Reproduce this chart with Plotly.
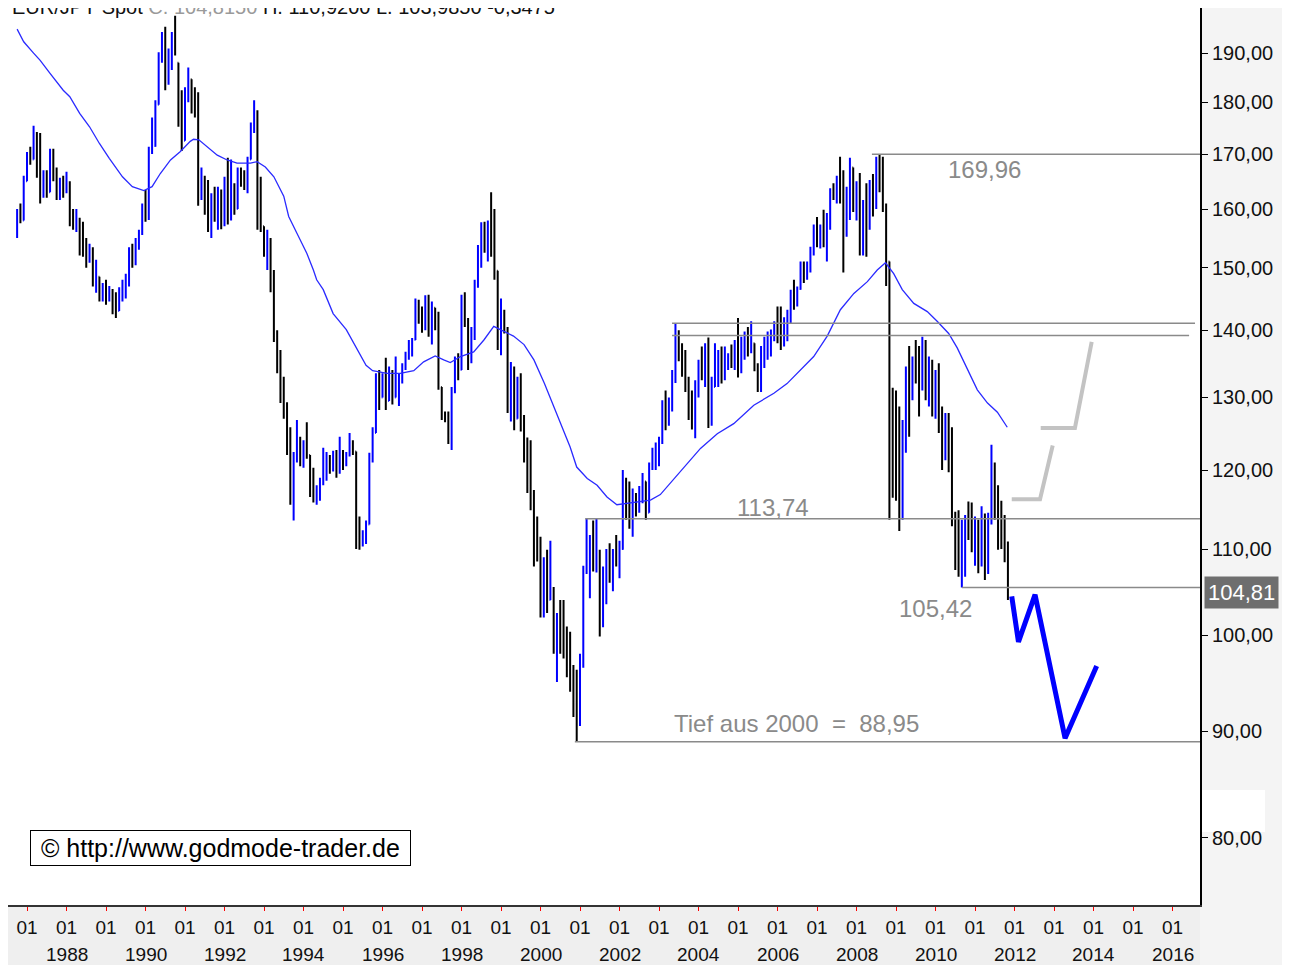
import numpy as np
import plotly.graph_objects as go

# ---------------- data (monthly EUR/JPY bars, Oct 1986 .. Nov 2011) ----------------
first_bar_year = 1986.75
first_open = 155.5

highs = [
    160, 161, 166, 170.4, 171.4, 175.4, 174.2, 174, 167, 167,
    171, 171, 167.5, 165.6, 166, 166.7, 165, 160, 160, 158.5,
    157.8, 155, 154, 153.4, 151.3, 148.5, 147.5, 148, 147, 146.5,
    146, 146.8, 148, 149, 153.4, 154, 155, 156.4, 161, 163.4,
    171.4, 177, 180.4, 190.2, 194.5, 195.6, 191, 194.5, 198, 188,
    182.4, 183, 187, 184.6, 183, 182, 167.5, 166, 165.2, 162.8,
    164, 164, 163.5, 165.8, 169.3, 169, 164.6, 167.5, 167.5, 167,
    169.5, 176, 180.4, 178.4, 165.8, 157, 156.4, 155, 149.6, 140,
    137, 133, 129.3, 125.8, 122.4, 126.8, 124.5, 124, 126.5, 122,
    120.3, 118, 119, 123, 122.4, 122, 122.6, 122.7, 124.5, 122.7,
    122.4, 125, 124, 122.5, 114, 112.3, 113.5, 122.3, 125.8, 133.5,
    134, 133.5, 135.8, 134.5, 134, 136, 133.5, 135, 136.7, 138.5,
    138.8, 145, 144.8, 143.7, 145.5, 145.6, 144.5, 143.5, 142.9, 131.5,
    128, 128, 131.5, 136, 136.5, 145.6, 146, 141.9, 140.5, 148,
    153.8, 157.7, 157.8, 158, 163, 160, 149.5, 145, 143.2, 140.5,
    135.2, 134.5, 133, 133.5, 127.5, 124.4, 124, 117.4, 114, 111.5,
    109, 109.9, 111, 105.5, 102.5, 104, 104, 101, 100.4, 96.8,
    96.3, 98, 108, 113.74, 111.7, 113.5, 113.7, 109.9, 107.9, 110,
    110.7, 110, 111.7, 111, 120, 119, 118.5, 117.6, 117, 117.9,
    119.6, 118.5, 121, 123, 123.7, 124.5, 129.6, 131, 130, 134,
    141, 140, 138, 137, 133, 131, 132.5, 135.5, 137.5, 138,
    138.9, 133, 138, 137, 137.5, 137.5, 136.5, 137.8, 138.5, 141.9,
    139, 139.8, 140.5, 141.4, 138, 135, 137.6, 139, 139.8, 140.1,
    141.4, 143.7, 143.7, 142, 143.2, 146.4, 148, 146.9, 151, 151,
    151, 153.5, 157.3, 158.6, 157.3, 159.9, 159.3, 163.7, 164.6, 166,
    169.5, 167, 164, 169.3, 167.5, 165, 166.5, 161.6, 164.6, 165.2,
    166.3, 169.5, 169.96, 169.5, 161, 151, 131.4, 131, 128.7, 126.8,
    134.5, 137.6, 136, 138.5, 137.6, 139, 138.5, 136, 135.5, 134,
    135, 128.7, 127.8, 127.8, 125.8, 114.6, 114.8, 113.6, 114.2, 115.9,
    115.8, 114, 113.6, 115.3, 114.4, 114.5, 123.4, 121, 118, 116,
    114.2, 110.92,
]

lows = [
    155, 157.5, 158, 165, 168, 169, 165.6, 161, 162, 162,
    163, 165, 161.6, 161.6, 162, 162.8, 157, 156.4, 156, 152,
    151.8, 150, 150.8, 146.9, 145.9, 144.5, 144.5, 144, 144.5, 142.5,
    141.9, 143, 144.5, 145, 146.9, 150, 150.4, 153, 155.5, 157.8,
    158.1, 170, 171.4, 179.5, 188, 182.4, 183.5, 186.5, 189.5, 175.2,
    170.6, 172.5, 180, 177.8, 177, 160.6, 161.6, 159, 156, 155,
    157.8, 156.4, 156.5, 157, 157.3, 158, 159, 160, 164, 163.4,
    162.8, 169, 174, 156.4, 156, 151.8, 149.6, 146, 138.2, 133.5,
    129.2, 127, 122, 115.5, 113.5, 121, 120.5, 120.3, 121.5, 116.5,
    115.8, 115.5, 116, 118, 118.6, 119.5, 119.8, 119, 119.5, 120,
    120.5, 121.8, 122, 110, 109.9, 110.3, 110.6, 113, 121, 125,
    128.2, 130, 128.2, 129.5, 129, 130, 128.8, 132, 134, 135.5,
    136, 138.5, 141, 139.6, 140, 139, 137.8, 140, 131.1, 126.8,
    126.5, 123.5, 122.7, 130.6, 132.5, 134, 140.5, 134, 135, 138.5,
    146.7, 150, 152.5, 151, 151.8, 148, 137, 136.2, 139.5, 127.8,
    126.6, 125.4, 127, 125.2, 121, 117, 114.8, 107.9, 108.5, 102,
    102, 102.5, 104, 98, 95, 98, 97.5, 95.5, 94, 91.4,
    88.95, 90.5, 96.5, 107, 104.2, 107.3, 107.2, 99.9, 100.9, 103.5,
    106, 105, 107.9, 106.5, 109.9, 113.6, 112.5, 111.5, 114, 114.5,
    115.7, 113.6, 114.5, 120, 120, 120.5, 123.5, 125.4, 126, 128,
    132.1, 135.3, 133, 130.8, 126.8, 125.5, 124.3, 130, 132.5, 131.5,
    125.7, 126, 131.5, 131.5, 132, 132.5, 134, 134.3, 134, 132.9,
    133.5, 135.5, 136, 136.5, 133.8, 130.8, 130.8, 134.3, 135.5, 136,
    138.3, 138, 137, 137.5, 138.3, 141.1, 143.2, 143.7, 146.4, 147.5,
    148, 149.2, 152, 153.4, 153.2, 153.4, 151, 156.4, 161.6, 161,
    161, 149.2, 155.2, 158.1, 159.5, 158, 152, 152, 151.8, 156.4,
    158.7, 160, 163, 159.5, 147, 113.6, 116.4, 116, 112.2, 113.6,
    122.3, 124.5, 129.6, 132, 127.3, 131, 129.6, 128.7, 127.3, 127,
    125, 120, 121.3, 119.7, 112.8, 107.5, 106.7, 105.42, 106.7, 111.1,
    109.6, 108, 107.1, 107.9, 106.3, 107, 113, 113.6, 109.9, 110,
    108.4, 103.985,
]

closes = [
    159.5, 158, 165, 169.5, 169, 173, 167, 163, 166, 163,
    168, 166, 162.5, 165, 163, 164, 158, 157, 157.5, 153,
    152.5, 151, 153, 148, 150, 145.5, 146.5, 145, 145.5, 144,
    143, 146, 147, 148.5, 152.5, 151.5, 154.5, 156, 160.5, 158.5,
    170.5, 171.5, 179.5, 189.5, 193, 184, 189, 192, 190.5, 176.5,
    172, 181.5, 185.5, 179, 178, 162, 163, 160, 157, 161.5,
    159, 163, 157.5, 164.5, 158.5, 164, 160, 166.5, 165, 164,
    169, 175.5, 177, 158, 157, 153, 154.5, 147.5, 139, 134.5,
    131, 129, 123, 116.5, 121.5, 122.5, 121.5, 123, 122, 117.5,
    116.5, 117, 118.5, 119.5, 121.5, 120.5, 122, 119.8, 122.5, 121,
    122, 123.5, 122.5, 111.5, 111, 111.5, 113, 121.5, 125, 131,
    130, 131, 129.5, 133.5, 130, 132, 133, 134.5, 136, 136.5,
    138.5, 144, 142, 140.5, 144.5, 140, 143.5, 141, 132, 127.5,
    127, 124.5, 131, 135.5, 134, 145, 141, 136, 139, 147,
    153, 156, 154, 156.5, 153, 149.5, 140, 142, 140, 129,
    131, 127, 128.5, 126, 122, 118, 116, 110, 109.5, 103,
    107.5, 104, 105, 99, 101, 100, 99, 96.5, 95, 93,
    91, 97, 107.5, 109, 110.5, 108.5, 109.5, 101.5, 104, 107.5,
    107, 109, 108.5, 110, 118, 116, 114, 116, 115.5, 117,
    118.5, 114.5, 120.5, 122, 123, 124, 128.5, 127, 129, 133,
    139.5, 136.5, 135, 131.5, 129, 127, 131.5, 134.5, 133.5, 135,
    128, 131.5, 133.5, 135.5, 133, 134.5, 136, 135, 137.5, 134,
    138, 139, 137, 138, 134.5, 131.5, 136.5, 138.5, 139, 139.5,
    141, 139, 138.5, 140, 142, 145.5, 144.5, 146.5, 150, 148.5,
    150.5, 153, 156.5, 154, 156.5, 155, 157, 163, 162, 165,
    162, 158.5, 163, 167.5, 161, 163, 153.5, 159, 157, 164.5,
    161, 168.5, 168, 160.5, 151, 122, 120, 117, 114, 124,
    133, 130, 135, 134, 132, 133, 131, 134, 129, 132,
    126, 122.5, 125.5, 121, 114, 111, 108, 110, 113.5, 112,
    110.5, 112.5, 108.5, 110.5, 107.5, 113.5, 120.5, 117.5, 112, 111,
    110.3, 104.815,
]

# moving average (bar index, value)
ma_bar_index = [0, 2, 5, 7, 10, 14, 16, 19, 22, 25, 28, 32, 35, 38.5, 41, 43.5, 46.6,
                49.6, 52.6, 53.6, 55.2, 57.7, 60.8, 63.8, 66.8, 70.9, 72.9, 75.4, 78,
                81, 82.5, 85, 88, 90, 91, 93, 96, 100, 103, 106, 108, 112.4, 116.4,
                120.5, 123.5, 127, 129.6, 131.6, 134.7, 138.7, 141.8, 144.8, 146.8,
                150.8, 154, 157, 160.2, 164, 168, 170, 173.2, 176.2, 179.2, 182.2,
                185.3, 189.3, 192.4, 195.4, 201.5, 207.6, 212.7, 217.7, 223.8, 229.9,
                233.9, 237.9, 242, 246.1, 250.1, 254.2, 258.3, 261.3, 263.8, 266.3,
                268.9, 272.4, 276.5, 279.5, 283, 285.6, 288.7, 291.7, 294.8, 297.8, 300.8]
ma_values = [195.1, 192.4, 190.0, 188.5, 185.8, 182.4, 181.1, 177.8, 175.2, 172.0, 169.2,
             165.8, 164.0, 163.3, 164.0, 166.4, 168.9, 170.5, 172.4, 172.8, 172.7, 171.4,
             169.8, 168.9, 168.3, 168.3, 168.6, 167.6, 165.8, 162.3, 158.7, 155.8, 152.4,
             149.6, 148.0, 146.4, 142.6, 140.1, 137.4, 134.7, 133.9, 133.5, 133.5, 133.9,
             135.2, 136.1, 135.5, 135.1, 136.0, 136.7, 138.5, 140.6, 140.1, 139.1, 137.8,
             135.5, 132.0, 127.7, 123.1, 120.4, 118.9, 118.0, 116.5, 115.5, 115.7, 115.9,
             116.1, 116.8, 119.8, 122.9, 124.9, 126.3, 128.9, 130.6, 132.0, 134.0, 136.0,
             139.1, 143.2, 145.8, 147.7, 149.6, 150.8, 149.0, 146.4, 144.2, 142.9, 141.4,
             139.5, 137.3, 134.0, 131.1, 129.2, 127.9, 125.8]

# horizontal levels
levels = [169.96, 141.1, 139.2, 113.74, 105.42, 88.95]
level_start = [2008.39, 2003.33, 2003.33, 2001.13, 2010.67, 2000.87]
level_end = [2016.70, 2016.57, 2016.42, 2016.70, 2016.70, 2016.70]

# projections
proj_gray_a_x = [2011.93, 2012.646, 2012.967]
proj_gray_a_y = [116.2, 116.2, 123.3]
proj_gray_b_x = [2012.663, 2013.53, 2013.954]
proj_gray_b_y = [125.7, 125.7, 138.2]
proj_blue_x = [2011.93, 2012.10, 2012.52, 2013.28, 2014.08]
proj_blue_y = [104.4, 99.3, 104.6, 89.3, 96.7]

y_ticks = [80, 90, 100, 110, 120, 130, 140, 150, 160, 170, 180, 190]
x_tick_years = list(range(1987, 2017))
year_labels = list(range(1988, 2017, 2))

last_price = 104.81

# ---------------- build ----------------
n = len(closes)
assert len(highs) == n and len(lows) == n
bar_x = [first_bar_year + i / 12 for i in range(n)]
prev = [first_open] + closes[:-1]
opens = [min(max(p, l), h) for p, l, h in zip(prev, lows, highs)]
ma_x = [first_bar_year + i / 12 for i in ma_bar_index]

fig = go.Figure()

fig.add_trace(go.Ohlc(
    x=bar_x, open=opens, high=highs, low=lows, close=closes,
    increasing=dict(line=dict(color="#0000ff", width=2)),
    decreasing=dict(line=dict(color="#000000", width=2)),
    tickwidth=0.25, hoverinfo="skip", showlegend=False,
))

fig.add_trace(go.Scatter(x=ma_x, y=ma_values, mode="lines",
                         line=dict(color="#2a2aff", width=1.3),
                         hoverinfo="skip", showlegend=False))

for lv, x0, x1 in zip(levels, level_start, level_end):
    fig.add_trace(go.Scatter(x=[x0, x1], y=[lv, lv], mode="lines",
                             line=dict(color="#8a8a8a", width=1.5),
                             hoverinfo="skip", showlegend=False))

for px, py in [(proj_gray_a_x, proj_gray_a_y), (proj_gray_b_x, proj_gray_b_y)]:
    fig.add_trace(go.Scatter(x=px, y=py, mode="lines",
                             line=dict(color="#c3c3c3", width=4),
                             hoverinfo="skip", showlegend=False))
fig.add_trace(go.Scatter(x=proj_blue_x, y=proj_blue_y, mode="lines",
                         line=dict(color="#0000ff", width=5),
                         hoverinfo="skip", showlegend=False))

FONT = "Liberation Sans, Arial, sans-serif"
ann = []
lab_font = dict(family=FONT, size=24, color="#8a8a8a")
for txt, x, v in [("169,96", 2011.25, 167.2), ("113,74", 2005.89, 115.2),
                  ("105,42", 2009.99, 103.0), ("Tief aus 2000  =  88,95", 2006.49, 90.8)]:
    ann.append(dict(x=x, y=np.log10(v), xref="x", yref="y", text=txt,
                    showarrow=False, font=lab_font, xanchor="center", yanchor="middle"))

for yr in year_labels:
    ann.append(dict(x=yr, y=-0.0557, xref="x", yref="paper", text=str(yr),
                    showarrow=False, yanchor="middle", xanchor="center",
                    font=dict(family=FONT, size=19, color="#111")))

ann.append(dict(x=1.0035, y=np.log10(last_price), xref="paper", yref="y",
                text="104,81", showarrow=False, xanchor="left", yanchor="middle",
                bgcolor="#6e6e6e", borderpad=3,
                font=dict(family=FONT, size=22, color="#ffffff")))

ann.append(dict(x=0.0185, y=0.0435, xref="paper", yref="paper", xanchor="left", yanchor="bottom",
                text="&nbsp;© http://www.godmode-trader.de&nbsp;", showarrow=False,
                bgcolor="#ffffff", bordercolor="#000000", borderwidth=1, borderpad=3,
                font=dict(family=FONT, size=25, color="#000000")))

ann.append(dict(x=0.002, y=1.0015, xref="paper", yref="paper", xanchor="left", yanchor="middle",
                showarrow=False,
                text='EUR/JPY Spot <span style="color:#9a9a9a">C. 104,8150</span> H. 110,9200 L. 103,9850 -0,3475',
                font=dict(family=FONT, size=20, color="#111111")))

shapes = [
    dict(type="rect", xref="paper", yref="paper", x0=-0.01, x1=1.08, y0=-0.08, y1=0,
         fillcolor="#efefef", line=dict(width=0), layer="below"),
    dict(type="rect", xref="paper", yref="paper", x0=1.0, x1=1.08, y0=-0.08, y1=1.01,
         fillcolor="#f4f4f4", line=dict(width=0), layer="below"),
    dict(type="rect", xref="paper", yref="paper", x0=1.0017, x1=1.0545, y0=0.0814, y1=0.1282,
         fillcolor="#ffffff", line=dict(width=0), layer="below"),
]

fig.update_layout(
    width=1282, height=957,
    margin=dict(l=0, r=90, t=0, b=60),
    paper_bgcolor="#ffffff", plot_bgcolor="#ffffff",
    showlegend=False, hovermode=False,
    annotations=ann, shapes=shapes,
    font=dict(family=FONT, color="#111"),
    xaxis=dict(range=[1986.519, 2016.696], tickvals=x_tick_years,
               ticktext=["01"] * len(x_tick_years), ticks="outside", ticklen=4,
               tickcolor="#ff0000", tickwidth=1, showgrid=False, zeroline=False,
               showline=True, linecolor="#333333", linewidth=2,
               tickfont=dict(size=19, color="#111"), ticklabelstandoff=0,
               rangeslider=dict(visible=False), fixedrange=True),
    yaxis=dict(type="log", side="right", range=[np.log10(74.3), np.log10(199.7)],
               tickvals=y_ticks, ticktext=[f"{v},00" for v in y_ticks],
               ticks="outside", ticklen=6, tickcolor="#000", showgrid=False,
               zeroline=False, showline=True, linecolor="#000", linewidth=2,
               tickfont=dict(size=20, color="#111"), fixedrange=True),
)

fig.write_html("out.html")
